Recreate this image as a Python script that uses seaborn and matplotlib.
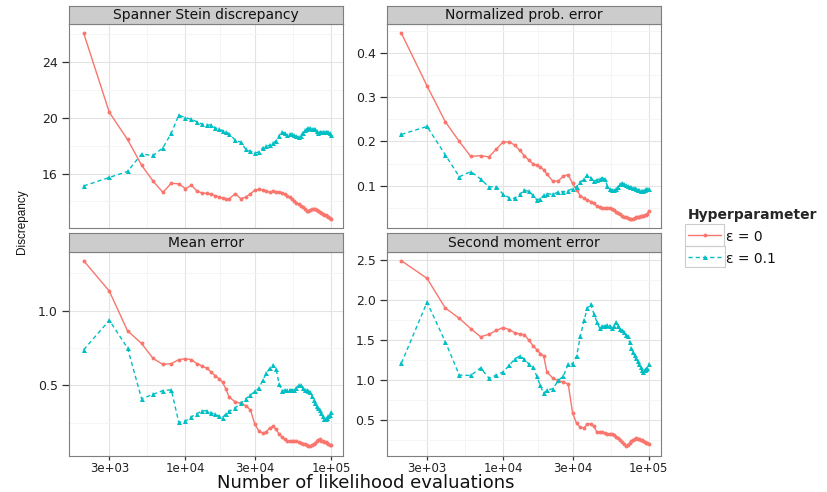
import numpy as np
import pandas as pd
import matplotlib
matplotlib.use("Agg")
import matplotlib.pyplot as plt
from matplotlib.lines import Line2D
from matplotlib.patches import Rectangle
from matplotlib.ticker import FixedLocator, NullFormatter
import seaborn as sns

# ---------------- data ----------------
n_evals = list(range(2000, 20001, 1000)) + list(range(22000, 100001, 2000))

panel_titles = ["Spanner Stein discrepancy", "Normalized prob. error",
                "Mean error", "Second moment error"]
series_labels = ["ε = 0", "ε = 0.1"]
legend_title = "Hyperparameter"
y_axis_title = "Discrepancy"
x_axis_title = "Number of likelihood evaluations"

stein_eps0 = [26.08, 20.4, 18.45, 16.6, 15.45, 14.65, 15.3, 15.26, 14.92, 15.15,
              14.75, 14.6, 14.58, 14.5, 14.42, 14.32, 14.25, 14.15, 14.2,
              14.55, 14.2, 14.3, 14.55, 14.8, 14.87, 14.83, 14.75, 14.65, 14.72,
              14.7, 14.65, 14.6, 14.5, 14.4, 14.3, 14.2, 14.05, 13.9, 13.8,
              13.7, 13.6, 13.45, 13.3, 13.3, 13.35, 13.42, 13.45, 13.44, 13.38,
              13.3, 13.22, 13.15, 13.1, 13.05, 13.0, 12.95, 12.9, 12.82, 12.72]
stein_eps01 = [15.11, 15.72, 16.15, 17.4, 17.3, 17.85, 18.9, 20.2, 20.02, 19.9,
               19.72, 19.55, 19.5, 19.48, 19.3, 19.18, 19.09, 19.0, 18.85,
               18.4, 18.25, 17.75, 17.6, 17.48, 17.55, 17.85, 17.95, 18.05, 18.2,
               18.35, 18.7, 19.02, 18.9, 18.8, 18.82, 18.85, 18.8, 18.7, 18.6,
               18.7, 18.95, 19.1, 19.2, 19.25, 19.26, 19.2, 19.19, 19.19, 19.05,
               18.95, 18.97, 19.0, 19.02, 19.02, 19.0, 19.0, 18.97, 18.95, 18.8]

prob_eps0 = [0.445, 0.326, 0.245, 0.2, 0.166, 0.168, 0.165, 0.183, 0.199, 0.199,
             0.192, 0.18, 0.168, 0.158, 0.15, 0.146, 0.142, 0.136, 0.126,
             0.11, 0.111, 0.122, 0.125, 0.105, 0.09, 0.077, 0.071, 0.068, 0.064,
             0.06, 0.054, 0.052, 0.05, 0.05, 0.05, 0.05, 0.047, 0.044, 0.04,
             0.039, 0.035, 0.032, 0.03, 0.028, 0.026, 0.025, 0.024, 0.025, 0.026,
             0.028, 0.029, 0.03, 0.031, 0.032, 0.032, 0.033, 0.034, 0.036, 0.043]
prob_eps01 = [0.216, 0.234, 0.17, 0.12, 0.132, 0.115, 0.097, 0.098, 0.08, 0.073,
              0.071, 0.08, 0.09, 0.087, 0.078, 0.068, 0.07, 0.078, 0.082,
              0.08, 0.086, 0.086, 0.089, 0.093, 0.098, 0.108, 0.115, 0.125, 0.118,
              0.11, 0.113, 0.116, 0.118, 0.115, 0.1, 0.092, 0.09, 0.091, 0.093,
              0.098, 0.103, 0.106, 0.104, 0.101, 0.099, 0.097, 0.096, 0.095, 0.094,
              0.093, 0.091, 0.09, 0.089, 0.088, 0.088, 0.09, 0.092, 0.093, 0.092]

mean_eps0 = [1.333, 1.13, 0.865, 0.78, 0.68, 0.64, 0.645, 0.672, 0.678, 0.672,
             0.645, 0.63, 0.615, 0.59, 0.565, 0.545, 0.52, 0.475, 0.42,
             0.39, 0.38, 0.365, 0.335, 0.24, 0.195, 0.18, 0.19, 0.215, 0.225,
             0.205, 0.175, 0.155, 0.138, 0.13, 0.128, 0.13, 0.13, 0.128, 0.12,
             0.116, 0.11, 0.105, 0.1, 0.097, 0.093, 0.1, 0.108, 0.116, 0.125,
             0.133, 0.138, 0.13, 0.125, 0.12, 0.118, 0.112, 0.108, 0.104, 0.1]
mean_eps01 = [0.738, 0.935, 0.75, 0.41, 0.44, 0.465, 0.47, 0.253, 0.26, 0.29,
              0.31, 0.33, 0.33, 0.318, 0.306, 0.295, 0.285, 0.31, 0.327,
              0.35, 0.38, 0.41, 0.435, 0.46, 0.48, 0.535, 0.58, 0.615, 0.635,
              0.61, 0.51, 0.465, 0.467, 0.47, 0.471, 0.471, 0.47, 0.485, 0.5,
              0.5, 0.485, 0.472, 0.47, 0.465, 0.455, 0.43, 0.405, 0.382, 0.365,
              0.35, 0.338, 0.315, 0.295, 0.275, 0.272, 0.285, 0.295, 0.305, 0.32]

moment_eps0 = [2.49, 2.27, 1.9, 1.77, 1.64, 1.54, 1.57, 1.62, 1.655, 1.63,
               1.59, 1.575, 1.565, 1.5, 1.43, 1.38, 1.33, 1.3, 1.1,
               1.02, 0.99, 0.971, 0.95, 0.59, 0.455, 0.405, 0.4, 0.45, 0.45,
               0.42, 0.35, 0.342, 0.342, 0.335, 0.328, 0.325, 0.32, 0.314, 0.29,
               0.27, 0.245, 0.22, 0.2, 0.17, 0.19, 0.21, 0.23, 0.25, 0.262,
               0.27, 0.265, 0.258, 0.252, 0.248, 0.238, 0.228, 0.215, 0.205, 0.196]
moment_eps01 = [1.21, 1.97, 1.48, 1.06, 1.055, 1.15, 1.02, 1.06, 1.1, 1.18,
                1.26, 1.3, 1.26, 1.2, 1.167, 1.05, 0.93, 0.83, 0.87,
                0.89, 0.995, 1.05, 1.2, 1.2, 1.3, 1.55, 1.75, 1.9, 1.95,
                1.83, 1.73, 1.65, 1.67, 1.675, 1.69, 1.68, 1.646, 1.68, 1.73,
                1.68, 1.64, 1.62, 1.6, 1.56, 1.55, 1.47, 1.4, 1.35, 1.31,
                1.27, 1.24, 1.2, 1.16, 1.12, 1.1, 1.12, 1.14, 1.15, 1.2]

panel_series = [(stein_eps0, stein_eps01), (prob_eps0, prob_eps01),
                (mean_eps0, mean_eps01), (moment_eps0, moment_eps01)]

x_ticks = [3e3, 1e4, 3e4, 1e5]
x_tick_labels = ["3e+03", "1e+04", "3e+04", "1e+05"]
y_ticks = [[16, 20, 24], [0.1, 0.2, 0.3, 0.4], [0.5, 1.0], [0.5, 1.0, 1.5, 2.0, 2.5]]
y_tick_labels = [["16", "20", "24"], ["0.1", "0.2", "0.3", "0.4"], ["0.5", "1.0"],
                 ["0.5", "1.0", "1.5", "2.0", "2.5"]]

# ---------------- style ----------------
sns.set_theme(style="white")
plt.rcParams["font.family"] = ["DejaVu Sans"]
RED, CYAN = "#F8766D", "#00BFC4"
TXT = "#222222"

W, H = 827, 492
fig = plt.figure(figsize=(W / 100, H / 100), dpi=100)
fig.patch.set_facecolor("white")


def add_px_axes(x0, y0, x1, y1):
    return fig.add_axes([x0 / W, 1 - y1 / H, (x1 - x0) / W, (y1 - y0) / H])


cols = [(69, 343), (386.7, 660.7)]
rows = [(5.5, 24, 228.5), (233, 251.5, 455.5)]
XLIM = (10 ** 3.200, 10 ** 5.083)

for i, title in enumerate(panel_titles):
    r, c = divmod(i, 2)
    x0, x1 = cols[c]
    ys, yp, yb = rows[r]
    ax = add_px_axes(x0, yp, x1, yb)
    sax = add_px_axes(x0, ys, x1, yp)

    s0, s1 = panel_series[i]
    sns.lineplot(x=n_evals, y=s0, ax=ax, color=RED, marker="o", markersize=2.8,
                 markeredgewidth=0, linewidth=1.0, errorbar=None, legend=False,
                 zorder=3)
    sns.lineplot(x=n_evals, y=s1, ax=ax, color=CYAN, marker="^", markersize=3.6,
                 markeredgewidth=0, linewidth=1.0, linestyle=(0, (3, 2.2)),
                 errorbar=None, legend=False, zorder=3)
    ax.set_xscale("log")
    ax.set_xlim(*XLIM)
    lo = min(min(s0), min(s1))
    hi = max(max(s0), max(s1))
    pad = 0.05 * (hi - lo)
    ax.set_ylim(lo - pad, hi + pad)

    ax.xaxis.set_major_locator(FixedLocator(x_ticks))
    lx = np.log10(x_ticks)
    ax.xaxis.set_minor_locator(FixedLocator(10 ** ((lx[:-1] + lx[1:]) / 2)))
    ax.xaxis.set_minor_formatter(NullFormatter())
    yt = y_ticks[i]
    step = yt[1] - yt[0]
    ymin, ymax = ax.get_ylim()
    minors = [v for v in np.arange(yt[0] - step / 2, yt[-1] + step, step)
              if ymin < v < ymax]
    ax.set_yticks(yt)
    ax.set_yticklabels(y_tick_labels[i])
    ax.yaxis.set_minor_locator(FixedLocator(minors))
    if r == 1:
        ax.set_xticklabels(x_tick_labels)
        ax.tick_params(axis="x", which="major", length=3, width=0.9, color="#333333",
                       pad=1.5, labelsize=8.5, labelcolor=TXT, bottom=True)
    else:
        ax.set_xticklabels([])
        ax.tick_params(axis="x", which="major", length=0)
    ax.tick_params(axis="y", which="major", length=5, width=0.9, color="#333333",
                   pad=3, labelsize=9, labelcolor=TXT, left=True)
    ax.tick_params(which="minor", length=0)
    ax.set_xlabel("")
    ax.set_ylabel("")
    ax.set_axisbelow(True)
    ax.grid(which="major", color="#e3e3e3", linewidth=0.8)
    ax.grid(which="minor", color="#f4f4f4", linewidth=0.6)
    for sp in ax.spines.values():
        sp.set_color("#7f7f7f")
        sp.set_linewidth(0.8)
        sp.set_visible(True)

    sax.set_facecolor("#cccccc")
    sax.set_xticks([])
    sax.set_yticks([])
    for sp in sax.spines.values():
        sp.set_color("#7f7f7f")
        sp.set_linewidth(0.8)
        sp.set_visible(True)
    sax.text(0.5, 0.47, title, ha="center", va="center", fontsize=10,
             color="#111111", transform=sax.transAxes)

fig.text(22 / W, 1 - 222 / H, y_axis_title, rotation=90, ha="center", va="center",
         fontsize=8.5, color="#111111", family=["Liberation Sans", "DejaVu Sans"])
fig.text(366 / W, 0.3 / H, x_axis_title, ha="center", va="bottom",
         fontsize=13, color="#111111")

handles = [Line2D([], [], color=RED, lw=1.0, marker="o", markersize=2.8, mew=0),
           Line2D([], [], color=CYAN, lw=1.0, ls=(0, (3, 2.2)), marker="^",
                  markersize=3.6, mew=0)]
leg = fig.legend(handles, series_labels, title=legend_title, loc="upper left",
                 bbox_to_anchor=(688 / W, 1 - 208 / H), frameon=False, fontsize=10,
                 title_fontproperties={"weight": "bold", "size": 10},
                 handlelength=2.4, handleheight=1.2, handletextpad=0.3,
                 labelspacing=0.5, alignment="left", borderpad=0, borderaxespad=0)
for t in leg.get_texts():
    t.set_color("#111111")

fig.canvas.draw()
renderer = fig.canvas.get_renderer()
centers = []
for h in leg.legend_handles:
    bb = h.get_window_extent(renderer)
    centers.append(((bb.x0, bb.x1), (bb.y0 + bb.y1) / 2))
kh = abs(centers[0][1] - centers[1][1])
for (bx0, bx1), cy in centers:
    rect = Rectangle(((bx0 - 1) / W, (cy - kh / 2) / H), (bx1 - bx0 + 2) / W,
                     kh / H, transform=fig.transFigure, facecolor="none",
                     edgecolor="#cccccc", linewidth=0.8)
    fig.patches.append(rect)

fig.savefig("out.png", dpi=100, facecolor="white")
